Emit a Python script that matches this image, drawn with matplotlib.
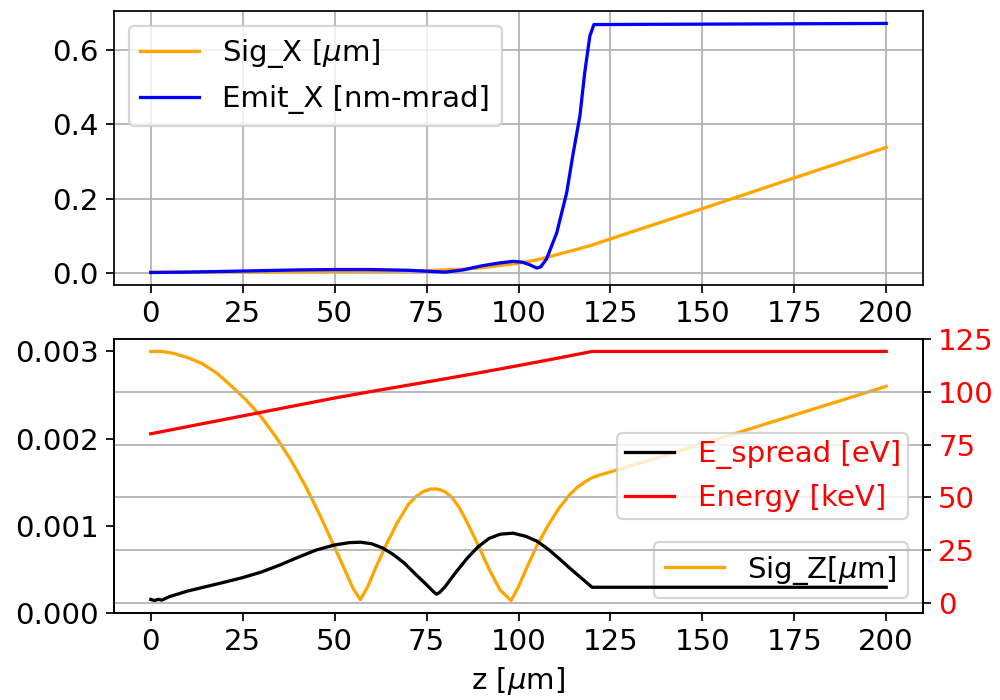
import matplotlib
matplotlib.use("Agg")
from matplotlib import pyplot as plt
from matplotlib.ticker import MultipleLocator

plt.rcParams["font.size"] = 13.5

# top panel: transverse size and emittance
z_sigx = [0, 25, 50, 75, 80, 85, 90, 95, 100, 105, 110, 115, 120, 130, 150, 175, 200]
sig_x = [0.002, 0.003, 0.004, 0.006, 0.008, 0.010, 0.014, 0.020, 0.026, 0.035, 0.048,
         0.061, 0.075, 0.108, 0.173, 0.256, 0.338]

z_emit = [0, 10, 25, 40, 50, 60, 70, 76, 80, 85, 90, 95, 98.5, 101, 103, 105, 106,
          107.6, 110.4, 113.1, 114.9, 116.7, 118, 119.4, 120.5, 200]
emit_x = [0.001, 0.002, 0.005, 0.008, 0.009, 0.009, 0.007, 0.004, 0.002, 0.008, 0.019,
          0.027, 0.031, 0.029, 0.022, 0.013, 0.016, 0.037, 0.108, 0.216, 0.324, 0.423,
          0.539, 0.638, 0.669, 0.672]

# bottom panel: longitudinal size, energy spread, energy
z_sigz = [0, 3, 6, 10, 14, 18, 22, 26, 30, 34, 38, 42, 46, 50, 53, 55, 57, 59, 61, 64,
          67, 70, 72, 74, 76, 78, 80, 82, 84, 86, 89, 92, 95, 98, 100, 102.5, 105, 108,
          111, 114, 116, 118, 120, 122, 130, 150, 175, 200]
sig_z = [0.00300, 0.00300, 0.00298, 0.00293, 0.00286, 0.00275, 0.00260, 0.00244,
         0.00225, 0.00202, 0.00176, 0.00146, 0.00112, 0.00075, 0.00047, 0.00028,
         0.00015, 0.00030, 0.00050, 0.00078, 0.00103, 0.00124, 0.00133, 0.00139,
         0.00142, 0.00142, 0.00139, 0.00132, 0.00120, 0.00104, 0.00078, 0.00050,
         0.00026, 0.00014, 0.00030, 0.00054, 0.00077, 0.00100, 0.00120, 0.00136,
         0.00144, 0.00150, 0.00155, 0.00158, 0.00168, 0.00194, 0.00227, 0.00260]

z_esp = [0, 1, 2, 3, 5, 10, 15, 20, 25, 30, 35, 40, 45, 50, 54, 57, 60, 63, 66, 69, 72,
         75, 77, 77.7, 78.5, 80, 83, 86, 89, 92, 95, 98.5, 102, 105, 108, 111, 114, 117,
         120, 200]
e_spread = [1.5, 1.0, 1.6, 1.2, 2.8, 5.5, 7.6, 9.7, 11.9, 14.5, 17.8, 21.5, 25.0, 27.4,
            28.5, 28.7, 28.0, 26.0, 22.8, 18.7, 13.5, 8.5, 5.0, 4.0, 4.8, 7.5, 14.5,
            21.0, 26.5, 30.5, 32.5, 33.0, 31.5, 29.2, 25.5, 21.0, 16.3, 11.8, 7.3, 7.3]

z_en = [0, 10, 20, 30, 40, 50, 60, 70, 80, 90, 100, 110, 120, 200]
energy = [80.2, 83.6, 87.0, 90.4, 93.8, 97.2, 100.3, 103.3, 106.3, 109.4, 112.6,
          115.9, 119.3, 119.3]

fig = plt.figure(figsize=(6.4, 4.48), dpi=156.25)
ax_top = fig.add_axes([0.114, 0.5929, 0.809, 0.3914])
ax_bot = fig.add_axes([0.114, 0.1243, 0.809, 0.3914])

ax_top.plot(z_sigx, sig_x, color="orange", label="Sig_X [$\\mu$m]")
ax_top.plot(z_emit, emit_x, color="blue", label="Emit_X [nm-mrad]")
ax_top.grid(True)
ax_top.legend(loc="upper left")

ax_bot.plot(z_sigz, sig_z, color="orange", label="Sig_Z[$\\mu$m]")
ax_bot.legend(loc="lower right")
ax_bot.set_xlabel("z [$\\mu$m]")

ax_r = ax_bot.twinx()
ax_r.plot(z_esp, e_spread, color="black", label="E_spread [eV]")
ax_r.plot(z_en, energy, color="red", label="Energy [keV]")
ax_r.yaxis.set_major_locator(MultipleLocator(25))
ax_r.tick_params(axis="y", labelcolor="red")
ax_r.grid(True)
ax_r.legend(loc="center right", labelcolor="red", handlelength=1.7, borderpad=0.25)

fig.savefig("out.png", dpi=156.25)
